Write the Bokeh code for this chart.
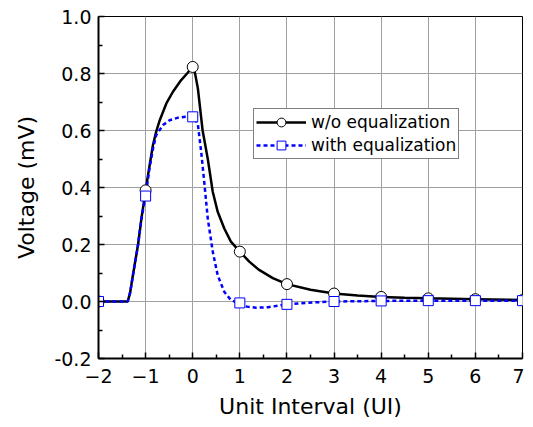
from bokeh.plotting import figure
from bokeh.models import Range1d, FixedTicker, NumeralTickFormatter, Legend, LegendItem
from bokeh.embed import file_html
from bokeh.resources import INLINE

# Curve samples (x in UI, voltage in mV)
curve_x_wo = [-2.0, -1.6, -1.38, -1.33, -1.27, -1.16, -1.09, -1.0, -0.915, -0.845, -0.775, -0.70,
              -0.56, -0.42, -0.245, -0.12, -0.03, 0.0, 0.05, 0.11, 0.21, 0.32, 0.425, 0.53, 0.67,
              0.81, 1.0, 1.2, 1.4, 1.7, 2.0, 2.5, 3.0, 3.5, 4.0, 4.5, 5.0, 6.0, 7.0]
curve_y_wo = [0.0, 0.0, 0.0, 0.03, 0.092, 0.20, 0.29, 0.39, 0.478, 0.548, 0.596, 0.636,
              0.695, 0.736, 0.777, 0.800, 0.818, 0.823, 0.80, 0.747, 0.60, 0.50, 0.385, 0.315, 0.256,
              0.21, 0.175, 0.14, 0.112, 0.082, 0.061, 0.041, 0.028, 0.021, 0.016, 0.013, 0.011, 0.008, 0.005]

curve_x_eq = [-2.0, -1.6, -1.38, -1.33, -1.27, -1.16, -1.09, -1.0, -0.915, -0.845, -0.775, -0.63,
              -0.49, -0.31, -0.15, 0.0, 0.05, 0.11, 0.18, 0.25, 0.32, 0.425, 0.53, 0.67, 0.81, 1.0,
              1.15, 1.35, 1.6, 1.8, 2.0, 2.3, 2.6, 3.0, 3.5, 4.0, 5.0, 6.0, 7.0]
curve_y_eq = [0.0, 0.0, 0.0, 0.03, 0.09, 0.20, 0.29, 0.37, 0.47, 0.535, 0.584, 0.619,
              0.636, 0.645, 0.648, 0.648, 0.640, 0.62, 0.525, 0.41, 0.29, 0.175, 0.092, 0.034, 0.005, -0.008,
              -0.018, -0.022, -0.020, -0.015, -0.010, -0.006, -0.003, 0.0, 0.001, 0.002, 0.003, 0.003, 0.003]

# Symbol values at integer UI
ui = [-2, -1, 0, 1, 2, 3, 4, 5, 6, 7]
mark_wo = [0.0, 0.39, 0.823, 0.175, 0.061, 0.028, 0.016, 0.011, 0.008, 0.005]
mark_eq = [0.0, 0.37, 0.648, -0.005, -0.010, 0.0, 0.002, 0.003, 0.003, 0.003]

x_ticks = [-2, -1, 0, 1, 2, 3, 4, 5, 6, 7]
y_ticks = [-0.2, 0.0, 0.2, 0.4, 0.6, 0.8, 1.0]
labels = ["w/o equalization", "with equalization"]

FONT = "DejaVu Sans"

p = figure(width=524, height=425, output_backend="svg", toolbar_location=None,
           x_range=Range1d(-2, 7), y_range=Range1d(-0.2, 1.0),
           min_border_left=98, min_border_right=2, min_border_top=16, min_border_bottom=67)

p.outline_line_color = "black"
p.outline_line_width = 1
p.background_fill_color = "white"
p.border_fill_color = "white"

for ax in (p.xaxis[0], p.yaxis[0]):
    ax.axis_line_width = 2
    ax.axis_line_color = "black"
    ax.major_tick_in = 6
    ax.major_tick_out = 0
    ax.minor_tick_in = 4
    ax.minor_tick_out = 0
    ax.major_tick_line_width = 1.5
    ax.minor_tick_line_width = 1.5
    ax.major_label_text_font = FONT
    ax.major_label_text_font_size = "19px"
    ax.major_label_text_color = "black"
    ax.axis_label_text_font = FONT
    ax.axis_label_text_font_size = "22px"
    ax.axis_label_text_font_style = "normal"
    ax.axis_label_text_color = "black"

p.xaxis.ticker = FixedTicker(ticks=x_ticks, minor_ticks=[v + 0.5 for v in x_ticks[:-1]])
p.yaxis.ticker = FixedTicker(ticks=y_ticks, minor_ticks=[v + 0.1 for v in y_ticks[:-1]])
p.yaxis.formatter = NumeralTickFormatter(format="0.0")
p.xaxis.axis_label = "Unit Interval (UI)"
p.yaxis.axis_label = "Voltage (mV)"
p.xaxis.major_label_standoff = 10
p.yaxis.major_label_standoff = 7
p.xaxis.axis_label_standoff = 8
p.yaxis.axis_label_standoff = 12

p.grid.grid_line_color = "#a0a0a0"
p.grid.grid_line_width = 1
p.grid.grid_line_alpha = 1.0

l1 = p.line(curve_x_wo, curve_y_wo, line_color="black", line_width=2.5)
l2 = p.line(curve_x_eq, curve_y_eq, line_color="#0000ff", line_width=2.5, line_dash="4 3")
m1 = p.scatter(ui, mark_wo, marker="circle", size=11, fill_color="white",
               line_color="black", line_width=1)
m2 = p.scatter(ui, mark_eq, marker="square", size=10, fill_color="white",
               line_color="#0000ff", line_width=1)

legend = Legend(items=[LegendItem(label=labels[0], renderers=[l1, m1]),
                       LegendItem(label=labels[1], renderers=[l2, m2])],
                location=(155, 199))
legend.label_text_font = FONT
legend.label_text_font_size = "17px"
legend.label_text_color = "black"
legend.border_line_color = "black"
legend.border_line_width = 1
legend.background_fill_alpha = 1.0
legend.glyph_width = 50
legend.glyph_height = 22
legend.label_height = 22
legend.label_standoff = 5
legend.spacing = 1
legend.padding = 2
legend.margin = 0
p.add_layout(legend, "center")

open("out.html", "w").write(file_html(p, INLINE))
